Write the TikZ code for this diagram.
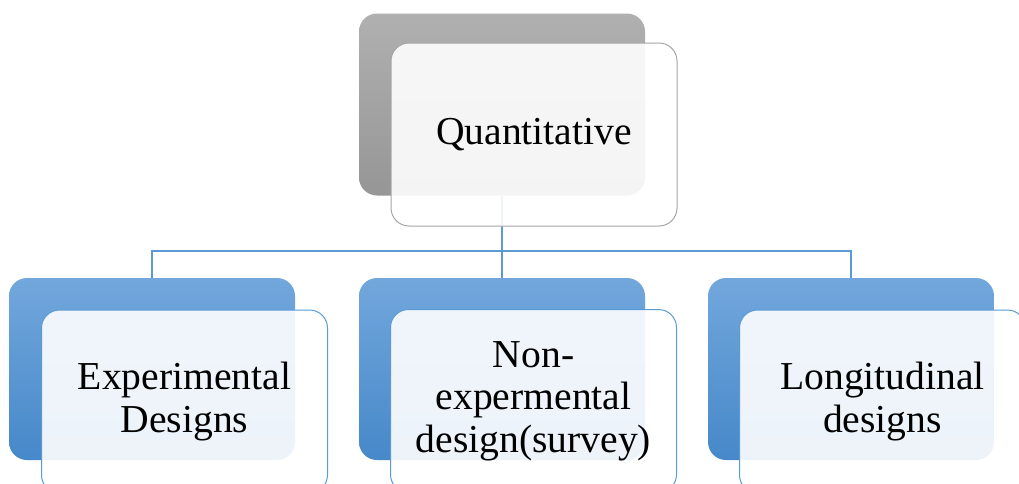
\documentclass[tikz,border=0pt]{standalone}
\usepackage{fontspec}
\setmainfont{Liberation Serif}
\definecolor{conn}{RGB}{91,155,213}
\definecolor{bluetop}{RGB}{114,167,220}
\definecolor{bluebot}{RGB}{70,136,201}
\definecolor{graytop}{RGB}{176,176,176}
\definecolor{graybot}{RGB}{150,150,150}
\definecolor{grayedge}{RGB}{166,166,166}
\tikzset{
 backbox/.style={rectangle, rounded corners=18pt, minimum width=286pt, minimum height=182pt, inner sep=0pt, draw=none},
 bluebg/.style={backbox, top color=bluetop, bottom color=bluebot},
 graybg/.style={backbox, top color=graytop, bottom color=graybot},
 frontbox/.style={rectangle, rounded corners=18pt, minimum width=286pt, minimum height=183pt, inner sep=0pt, fill=white, fill opacity=0.9, text opacity=1, line width=1pt, align=center, font=\fontsize{39.6}{42.5}\selectfont},
 bluefront/.style={frontbox, draw=conn},
 grayfront/.style={frontbox, draw=grayedge},
 link/.style={draw=conn, line width=1.2pt}
}
\begin{document}
\begin{tikzpicture}[x=1pt,y=-1pt]
\clip (0,0) rectangle (1019,483);
\fill[white] (0,0) rectangle (1019,483);
% back boxes
\node[graybg] (qback) at (502,104.5) {};
\node[bluebg] (eback) at (152,369) {};
\node[bluebg] (nback) at (502,369) {};
\node[bluebg] (lback) at (851,369) {};
% connectors
\coordinate (hub) at (502,251);
\draw[link] (qback.south) -- (hub);
\draw[link] (hub) -| (eback.north);
\draw[link] (hub) -- (nback.north);
\draw[link] (hub) -| (lback.north);
% front boxes
\node[grayfront] (qfront) at (534,134.5) {Quantitative};
\node[bluefront] (efront) at (184.5,401.5) {Experimental\\Designs};
\node[bluefront] (nfront) at (533.5,401) {Non-\\expermental\\design(survey)};
\node[bluefront] (lfront) at (882.5,401.5) {Longitudinal\\designs};
\end{tikzpicture}
\end{document}
